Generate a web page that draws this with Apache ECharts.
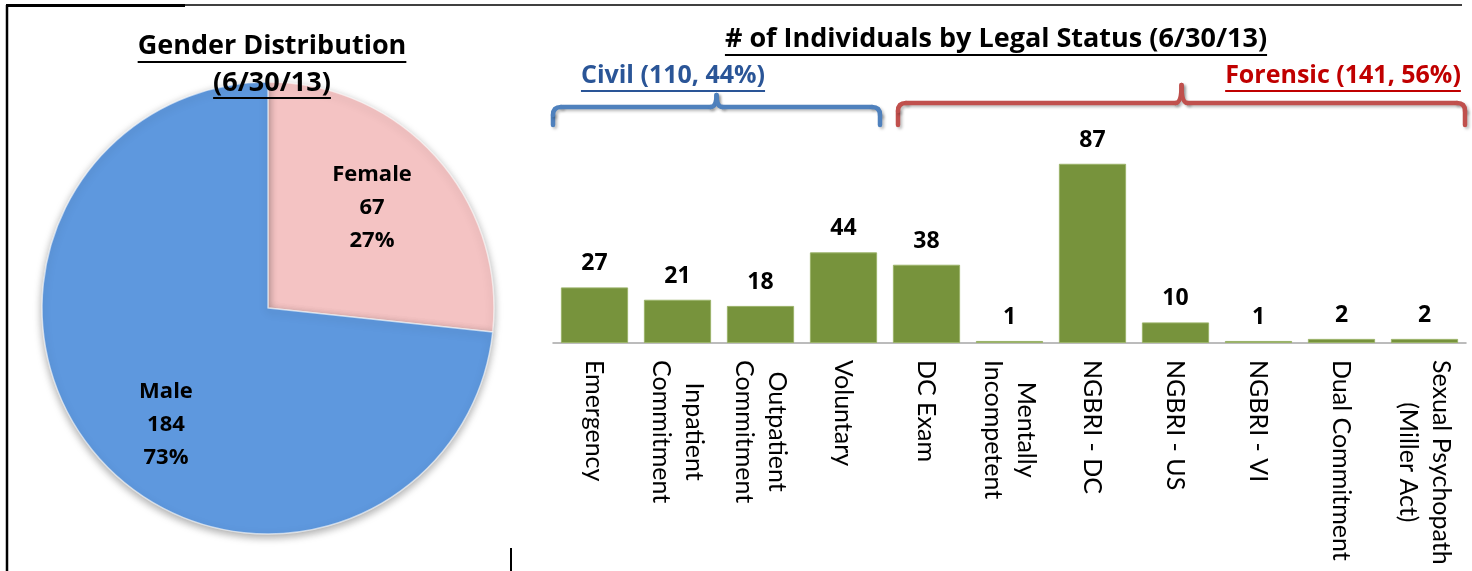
<!DOCTYPE html>
<html>
<head>
<meta charset="utf-8">
<script src="https://cdn.jsdelivr.net/npm/echarts@6/dist/echarts.min.js"></script>
<style>
html, body { margin: 0; padding: 0; background: #fff; }
#main { width: 1472px; height: 571px; }
</style>
</head>
<body>
<div id="main"></div>
<script>
// gender pie
var genderNames = ['Female', 'Male'];
var genderCounts = [67, 184];
var genderColors = ['#F4C3C3', '#5E98DE'];

// legal status bars
var statusLabels = ['Emergency', 'Inpatient\nCommitment', 'Outpatient\nCommitment', 'Voluntary',
    'DC Exam', 'Mentally\nIncompetent', 'NGBRI - DC', 'NGBRI - US', 'NGBRI - VI',
    'Dual Commitment', 'Sexual Psychopath\n(Miller Act)'];
var statusCounts = [27, 21, 18, 44, 38, 1, 87, 10, 1, 2, 2];

// brace groups over the bars (first and last category index)
var groupNames = ['Civil (110, 44%)', 'Forensic (141, 56%)'];
var groupRanges = [[0, 3], [4, 10]];
var groupColors = ['#4F81BD', '#C0504D'];
var groupTextColors = ['#2A5597', '#C00000'];

var FONT = '"Open Sans", Lato, sans-serif';
var AXIS_FONT = 'Lato, "Open Sans", sans-serif';

var chart = echarts.init(document.getElementById('main'));

var pieData = genderNames.map(function (n, i) {
    return { name: n, value: genderCounts[i], itemStyle: { color: genderColors[i] } };
});
// nudge of the slice labels (px)
var labelNudge = [[-6, 2], [7, 6]];

chart.setOption({
    animation: false,
    grid: { left: 553, right: 6, top: 137, bottom: 228 },
    xAxis: {
        type: 'category',
        data: statusLabels,
        axisLine: { lineStyle: { color: '#A6A6A6', width: 1.5 } },
        axisTick: { length: 8, lineStyle: { color: '#A6A6A6', width: 1.5 } },
        axisLabel: {
            interval: 0,
            rotate: -90,
            margin: 17,
            formatter: function (v) {
                return v.split('\n').map(function (s) { return '{a|' + s + '}'; }).join('\n');
            },
            rich: {
                a: { align: 'center', fontFamily: AXIS_FONT, fontSize: 25, lineHeight: 33, color: '#000' }
            }
        }
    },
    yAxis: { type: 'value', min: 0, max: 100, show: false },
    series: [
        {
            type: 'pie',
            center: [268, 308],
            radius: 226,
            startAngle: 90,
            clockwise: true,
            silent: true,
            data: pieData,
            label: { show: false },
            labelLine: { show: false },
            itemStyle: {
                borderColor: 'rgba(255,255,255,0.6)',
                borderWidth: 1.5,
                shadowBlur: 8,
                shadowOffsetY: 3,
                shadowColor: 'rgba(0,0,0,0.35)'
            }
        },
        {
            // transparent copy that carries the slice labels a bit further out
            type: 'pie',
            center: [268, 308],
            radius: [80, 226],
            startAngle: 90,
            clockwise: true,
            silent: true,
            data: genderNames.map(function (n, i) { return { name: n, value: genderCounts[i] }; }),
            itemStyle: { color: 'rgba(0,0,0,0)' },
            label: {
                show: true,
                position: 'inside',
                fontFamily: FONT,
                fontWeight: 'bold',
                fontSize: 22,
                lineHeight: 33,
                color: '#000',
                formatter: function (p) {
                    return p.name + '\n' + p.value + '\n' + Math.round(p.percent) + '%';
                }
            },
            labelLayout: function (p) {
                return { dx: labelNudge[p.dataIndex][0], dy: labelNudge[p.dataIndex][1] };
            },
            labelLine: { show: false }
        },
        {
            type: 'bar',
            data: statusCounts,
            barCategoryGap: '19%',
            itemStyle: { color: '#77933C', borderColor: '#9BB36A', borderWidth: 1 },
            label: {
                show: true,
                position: 'top',
                distance: 12,
                fontFamily: FONT,
                fontWeight: 'bold',
                fontSize: 23,
                color: '#000'
            }
        }
    ]
});

// text helpers
var ctx = document.createElement('canvas').getContext('2d');
function textWidth(str, font) {
    ctx.font = font;
    return ctx.measureText(str).width;
}

var graphics = [];

function addText(str, x, y, size, color, underlineY) {
    var font = 'bold ' + size + 'px ' + FONT;
    graphics.push({
        type: 'text', x: x, y: y, z: 10,
        style: {
            text: str, font: font, fill: color,
            textAlign: 'center', textVerticalAlign: 'middle'
        }
    });
    var w = textWidth(str, font);
    graphics.push({
        type: 'line', z: 10,
        shape: { x1: x - w / 2, y1: underlineY, x2: x + w / 2, y2: underlineY },
        style: { stroke: color, lineWidth: 2 }
    });
}

// titles
addText('Gender Distribution', 272, 46, 27, '#000', 62);
addText('(6/30/13)', 272, 83, 27, '#000', 98);
addText('# of Individuals by Legal Status (6/30/13)', 996, 39, 27, '#000', 55);

// braces over groups of categories
var c0 = chart.convertToPixel({ xAxisIndex: 0 }, 0);
var c1 = chart.convertToPixel({ xAxisIndex: 0 }, 1);
var band = c1 - c0;
var braceDefs = [
    { pad: [0, 5], h: 107, peak: 95, text: 673 },
    { pad: [13, 1], h: 103, peak: 85, text: 1343 }
];

function braceParts(x1, x2, h, peak, leg) {
    var xm = (x1 + x2) / 2;
    return [
        { type: 'line', shape: { x1: x1, y1: leg, x2: x1, y2: h + 8 } },
        { type: 'bezierCurve', shape: { x1: x1, y1: h + 8, cpx1: x1, cpy1: h, x2: x1 + 8, y2: h } },
        { type: 'line', shape: { x1: x1 + 8, y1: h, x2: xm - 6, y2: h } },
        { type: 'bezierCurve', shape: { x1: xm - 6, y1: h, cpx1: xm, cpy1: h, x2: xm, y2: peak } },
        { type: 'bezierCurve', shape: { x1: xm, y1: peak, cpx1: xm, cpy1: h, x2: xm + 6, y2: h } },
        { type: 'line', shape: { x1: xm + 6, y1: h, x2: x2 - 8, y2: h } },
        { type: 'bezierCurve', shape: { x1: x2 - 8, y1: h, cpx1: x2, cpy1: h, x2: x2, y2: h + 8 } },
        { type: 'line', shape: { x1: x2, y1: h + 8, x2: x2, y2: leg } }
    ];
}

groupRanges.forEach(function (r, i) {
    var d = braceDefs[i];
    var x1 = chart.convertToPixel({ xAxisIndex: 0 }, r[0]) - band / 2 + d.pad[0];
    var x2 = chart.convertToPixel({ xAxisIndex: 0 }, r[1]) + band / 2 - d.pad[1];
    braceParts(x1, x2, d.h, d.peak, 125).forEach(function (el) {
        el.z = 5;
        el.style = {
            fill: null, stroke: groupColors[i], lineWidth: 4.5, lineCap: 'round',
            shadowBlur: 3, shadowOffsetX: 2, shadowOffsetY: 2, shadowColor: 'rgba(0,0,0,0.25)'
        };
        graphics.push(el);
    });
    addText(groupNames[i], d.text, 76, 25, groupTextColors[i], 91);
});

// frame lines of the slide
graphics.push(
    { type: 'line', shape: { x1: 7, y1: 5, x2: 7, y2: 571 }, style: { stroke: '#000', lineWidth: 2.5 } },
    { type: 'line', shape: { x1: 6, y1: 5, x2: 1462, y2: 5 }, style: { stroke: '#000', lineWidth: 1.5 } },
    { type: 'line', shape: { x1: 6, y1: 5.5, x2: 185, y2: 5.5 }, style: { stroke: '#000', lineWidth: 3 } },
    { type: 'line', shape: { x1: 511, y1: 548, x2: 511, y2: 571 }, style: { stroke: '#000', lineWidth: 2 } }
);

chart.setOption({ graphic: graphics });
</script>
</body>
</html>
